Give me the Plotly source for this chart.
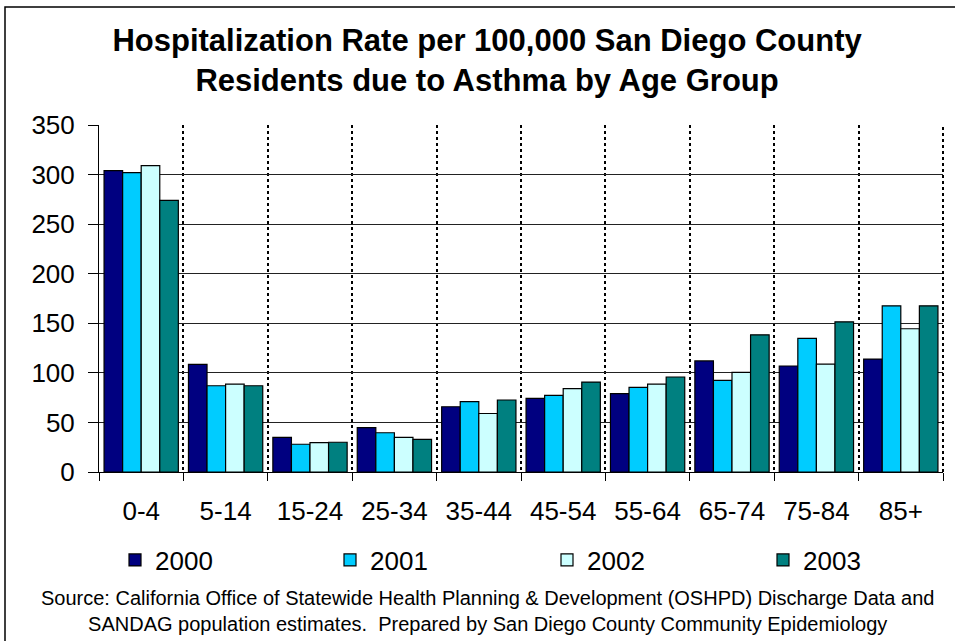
import plotly.graph_objects as go

age_groups = ["0-4", "5-14", "15-24", "25-34", "35-44", "45-54", "55-64", "65-74", "75-84", "85+"]
years = ["2000", "2001", "2002", "2003"]
rate_2000 = [304, 108.5, 35, 44.7, 65.8, 74.3, 79, 112, 106.9, 113.9]
rate_2001 = [302, 87, 28, 39.6, 70.9, 77.3, 85.4, 92.4, 134.8, 167.6]
rate_2002 = [309, 88.7, 29.6, 35, 59, 84, 88.7, 100.5, 108.9, 144.5]
rate_2003 = [274, 87, 30, 33, 72.6, 90.7, 95.8, 138.4, 151.5, 167.6]
series = [rate_2000, rate_2001, rate_2002, rate_2003]
colors = ["#000080", "#00CCFF", "#CCFFFF", "#008080"]

FONT = "Liberation Sans, Arial, sans-serif"
W, H = 955, 641
ML, MR, MT, MB = 99, 12, 125, 169
pw, ph = W - ML - MR, H - MT - MB

def px(x):
    return (x - ML) / pw

def py(y):
    return (H - MB - y) / ph

legend_ids = ["legend", "legend2", "legend3", "legend4"]
legend_x = [115, 330, 547, 763]

fig = go.Figure()
for yr, vals, col, lid in zip(years, series, colors, legend_ids):
    fig.add_trace(go.Bar(
        x=age_groups, y=vals, name=yr, legend=lid,
        marker=dict(color=col, line=dict(color="black", width=1.2)),
    ))

fig.update_layout(
    width=W, height=H,
    margin=dict(l=ML, r=MR, t=MT, b=MB),
    paper_bgcolor="white", plot_bgcolor="white",
    barmode="group", bargap=0.12, bargroupgap=0,
    font=dict(family=FONT, size=26, color="black"),
    title=dict(
        text="<b>Hospitalization Rate per 100,000 San Diego County<br>Residents due to Asthma by Age Group</b>",
        x=0.51, xanchor="center", y=1 - 51 / H, yanchor="middle",
        font=dict(family=FONT, size=31, color="black"),
    ),
    showlegend=True,
)
for lid, lx in zip(legend_ids, legend_x):
    fig.update_layout({lid: dict(
        orientation="h", x=px(lx), xanchor="left", y=py(560), yanchor="middle",
        font=dict(family=FONT, size=26), bgcolor="rgba(0,0,0,0)",
    )})

fig.update_xaxes(
    type="category", tickson="boundaries", ticks="outside", ticklen=8,
    tickcolor="black", showline=True, linecolor="black", linewidth=1,
    showgrid=True, gridcolor="black", gridwidth=2, griddash="dot",
    ticklabelstandoff=16, tickfont=dict(size=26), mirror=False,
)
fig.update_yaxes(
    range=[0, 350], dtick=50, ticks="outside", ticklen=10, tickcolor="black",
    showline=True, linecolor="black", linewidth=1,
    showgrid=True, gridcolor="#222222", gridwidth=1, zeroline=False,
    ticklabelstandoff=8, tickfont=dict(size=26),
)

# right dotted boundary
fig.add_shape(type="line", xref="paper", yref="paper", x0=1, x1=1, y0=0, y1=1,
              line=dict(color="black", width=2, dash="dot"))
# outer chart border
fig.add_shape(type="rect", xref="paper", yref="paper",
              x0=px(5), x1=px(960), y0=py(7), y1=py(650),
              line=dict(color="black", width=1.5), fillcolor="rgba(0,0,0,0)")

fig.add_annotation(
    text="Source: California Office of Statewide Health Planning &amp; Development (OSHPD) Discharge Data and<br>SANDAG population estimates.  Prepared by San Diego County Community Epidemiology",
    xref="paper", yref="paper", x=px(487), y=py(611), xanchor="center", yanchor="middle",
    showarrow=False, font=dict(family=FONT, size=20, color="black"), align="center",
)

fig.write_html("out.html", config={"displayModeBar": False},
               post_script="document.body.style.margin='0px';")
